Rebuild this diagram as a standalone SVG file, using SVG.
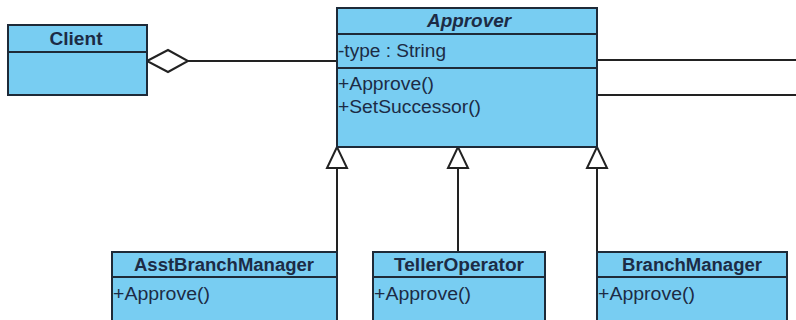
<svg xmlns="http://www.w3.org/2000/svg" width="796" height="320" viewBox="0 0 796 320">
  <style>
    .box { fill: #78CDF2; stroke: #1E2A38; stroke-width: 2; }
    .sep { stroke: #1E2A38; stroke-width: 2; fill: none; }
    .title { font-family: "Liberation Sans", Arial, sans-serif; font-size: 17.5px; font-weight: bold; fill: #1C2B45; text-anchor: middle; }
    .ital { font-style: italic; }
    .member { font-family: "Liberation Sans", Arial, sans-serif; font-size: 18px; fill: #1C2B45; }
    .conn { stroke: #222; stroke-width: 2; fill: none; }
    .gen { fill: #fff; stroke: #222; stroke-width: 2; stroke-linejoin: miter; }
  </style>
  <rect x="0" y="0" width="796" height="320" fill="#fff"/>

  <g id="connectors">
    <!-- aggregation Client - Approver -->
    <line class="conn" x1="188" y1="61" x2="337" y2="61"/>
    <polygon class="gen" points="147,61 168,50 188,61 168,72"/>
    <!-- lines going off to the right -->
    <line class="conn" x1="597" y1="60" x2="796" y2="60"/>
    <line class="conn" x1="597" y1="95" x2="796" y2="95"/>
    <!-- generalizations -->
    <line class="conn" x1="337" y1="168" x2="337" y2="252"/>
    <polygon class="gen" points="337,147 327,168 347,168"/>
    <line class="conn" x1="458" y1="168" x2="458" y2="252"/>
    <polygon class="gen" points="458,147 448,168 468,168"/>
    <line class="conn" x1="597" y1="168" x2="597" y2="252"/>
    <polygon class="gen" points="597,147 587,168 607,168"/>
  </g>

  <g id="client">
    <rect class="box" x="8" y="25" width="139" height="70"/>
    <line class="sep" x1="8" y1="52" x2="147" y2="52"/>
    <text class="title" x="76" y="45" textLength="53" lengthAdjust="spacingAndGlyphs">Client</text>
  </g>

  <g id="approver">
    <rect class="box" x="337" y="8" width="260" height="139"/>
    <line class="sep" x1="337" y1="34" x2="597" y2="34"/>
    <line class="sep" x1="337" y1="68" x2="597" y2="68"/>
    <text class="title ital" x="469" y="27" textLength="84" lengthAdjust="spacingAndGlyphs">Approver</text>
    <text class="member" x="338" y="57" textLength="108" lengthAdjust="spacingAndGlyphs">-type : String</text>
    <text class="member" x="338" y="90" textLength="96" lengthAdjust="spacingAndGlyphs">+Approve()</text>
    <text class="member" x="338" y="113" textLength="143" lengthAdjust="spacingAndGlyphs">+SetSuccessor()</text>
  </g>

  <g id="asstBranchManager">
    <rect class="box" x="112" y="252" width="225" height="80"/>
    <line class="sep" x1="112" y1="277" x2="337" y2="277"/>
    <text class="title" x="224" y="271" textLength="180" lengthAdjust="spacingAndGlyphs">AsstBranchManager</text>
    <text class="member" x="113" y="300" textLength="97" lengthAdjust="spacingAndGlyphs">+Approve()</text>
  </g>

  <g id="tellerOperator">
    <rect class="box" x="373" y="252" width="172" height="80"/>
    <line class="sep" x1="373" y1="277" x2="545" y2="277"/>
    <text class="title" x="459" y="271" textLength="130" lengthAdjust="spacingAndGlyphs">TellerOperator</text>
    <text class="member" x="374" y="300" textLength="97" lengthAdjust="spacingAndGlyphs">+Approve()</text>
  </g>

  <g id="branchManager">
    <rect class="box" x="597" y="252" width="190" height="80"/>
    <line class="sep" x1="597" y1="277" x2="787" y2="277"/>
    <text class="title" x="692" y="271" textLength="140" lengthAdjust="spacingAndGlyphs">BranchManager</text>
    <text class="member" x="598" y="300" textLength="97" lengthAdjust="spacingAndGlyphs">+Approve()</text>
  </g>
</svg>
